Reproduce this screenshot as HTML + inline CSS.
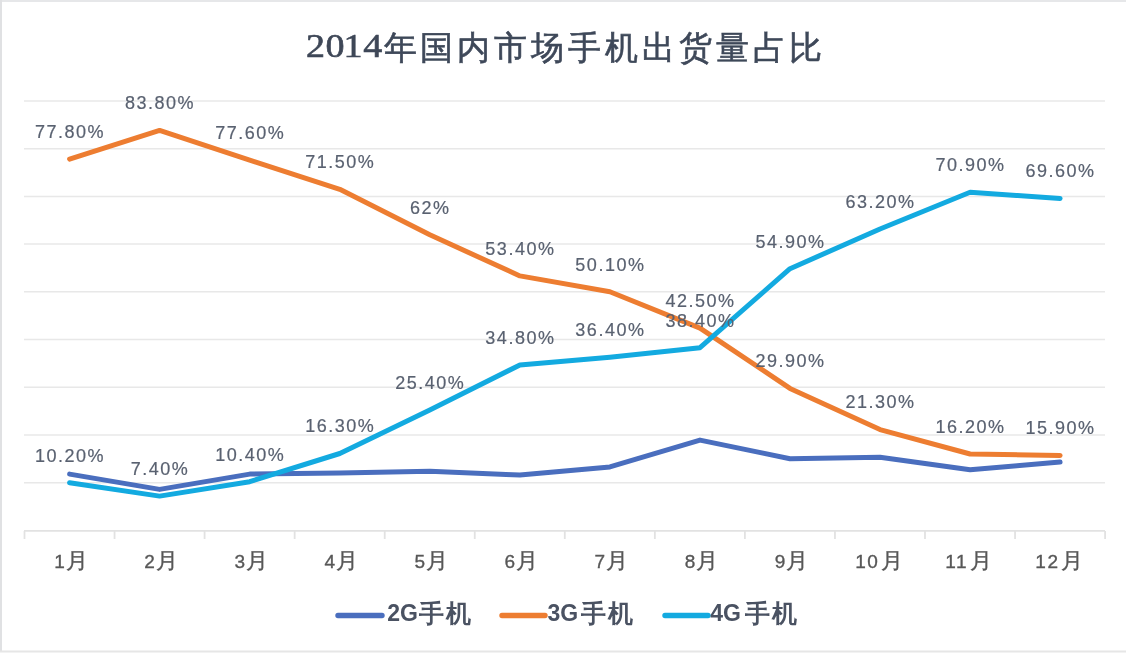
<!DOCTYPE html>
<html><head><meta charset="utf-8"><style>
html,body{margin:0;padding:0;background:#fff;}
body{width:1126px;height:658px;overflow:hidden;position:relative;}
svg{position:absolute;left:0;top:0;filter:blur(0.4px);}
text{font-family:"Liberation Sans",sans-serif;}
.lbl text{font-size:18px;fill:#596170;stroke:#596170;stroke-width:0.2px;text-anchor:middle;letter-spacing:1.5px;}
.cat text{font-size:19px;fill:#575757;stroke:#575757;stroke-width:0.35px;letter-spacing:1.6px;}
.cat .cj{font-size:22px;font-weight:400;}
.td{font-family:"Liberation Serif",serif;font-size:34px;font-weight:normal;fill:#3e4757;stroke:#3e4757;stroke-width:0.6px;text-anchor:middle;}
.tc{font-size:33px;font-weight:500;fill:#3e4859;stroke:#3e4859;stroke-width:0.6px;text-anchor:middle;}
.leg{font-size:23px;font-weight:bold;fill:#4a5262;}
.legc{font-size:25px;font-weight:700;fill:#4a5262;text-anchor:middle;}
</style></head><body>
<svg width="1126" height="658" viewBox="0 0 1126 658">
<rect x="0" y="0" width="1126" height="2" fill="#e6e7e9"/>
<rect x="0" y="0" width="2" height="652" fill="#e0e1e3"/>
<rect x="0" y="650.5" width="1126" height="2" fill="#e6e6e6"/>
<g stroke="#e8e8e8" stroke-width="1.5"><line x1="24" x2="1105" y1="100.90" y2="100.90"/><line x1="24" x2="1105" y1="148.64" y2="148.64"/><line x1="24" x2="1105" y1="196.38" y2="196.38"/><line x1="24" x2="1105" y1="244.12" y2="244.12"/><line x1="24" x2="1105" y1="291.86" y2="291.86"/><line x1="24" x2="1105" y1="339.60" y2="339.60"/><line x1="24" x2="1105" y1="387.34" y2="387.34"/><line x1="24" x2="1105" y1="435.08" y2="435.08"/><line x1="24" x2="1105" y1="482.82" y2="482.82"/></g>
<g stroke="#e2e2e2" stroke-width="1.8"><line x1="24" x2="1105" y1="530.8" y2="530.8"/><line x1="24.50" x2="24.50" y1="531" y2="539"/><line x1="114.55" x2="114.55" y1="531" y2="539"/><line x1="204.60" x2="204.60" y1="531" y2="539"/><line x1="294.65" x2="294.65" y1="531" y2="539"/><line x1="384.70" x2="384.70" y1="531" y2="539"/><line x1="474.75" x2="474.75" y1="531" y2="539"/><line x1="564.80" x2="564.80" y1="531" y2="539"/><line x1="654.85" x2="654.85" y1="531" y2="539"/><line x1="744.90" x2="744.90" y1="531" y2="539"/><line x1="834.95" x2="834.95" y1="531" y2="539"/><line x1="925.00" x2="925.00" y1="531" y2="539"/><line x1="1015.05" x2="1015.05" y1="531" y2="539"/><line x1="1105.10" x2="1105.10" y1="531" y2="539"/></g>
<text class="td" transform="translate(315.4,56.8) scale(1.12,1)">2</text><text class="td" transform="translate(335.0,56.8) scale(1.12,1)">0</text><text class="td" transform="translate(353.0,56.8) scale(1.12,1)">1</text><text class="td" transform="translate(372.7,56.8) scale(1.12,1)">4</text><text class="tc" x="400.0" y="58.5">年</text><text class="tc" x="436.9" y="58.5">国</text><text class="tc" x="473.8" y="58.5">内</text><text class="tc" x="510.7" y="58.5">市</text><text class="tc" x="547.6" y="58.5">场</text><text class="tc" x="584.5" y="58.5">手</text><text class="tc" x="621.4" y="58.5">机</text><text class="tc" x="658.3" y="58.5">出</text><text class="tc" x="695.2" y="58.5">货</text><text class="tc" x="732.1" y="58.5">量</text><text class="tc" x="769.0" y="58.5">占</text><text class="tc" x="805.9" y="58.5">比</text>
<g fill="none" stroke-width="5.0" stroke-linejoin="round" stroke-linecap="round">
<polyline stroke="#4a6ebe" points="69.6,474.1 159.6,489.4 249.7,474.1 339.8,473.1 429.8,471.2 519.9,475.0 609.9,466.9 700.0,440.1 790.0,458.8 880.0,457.3 970.1,469.8 1060.1,462.1"/>
<polyline stroke="#ed7d31" points="69.6,159.1 159.6,130.4 249.7,160.1 339.8,189.3 429.8,234.8 519.9,275.9 609.9,291.7 700.0,328.1 790.0,388.4 880.0,429.6 970.1,454.0 1060.1,455.4"/>
<polyline stroke="#13aae0" points="69.6,482.7 159.6,496.1 249.7,481.7 339.8,453.5 429.8,409.9 519.9,364.9 609.9,357.3 700.0,347.7 790.0,268.7 880.0,229.0 970.1,192.2 1060.1,198.4"/>
</g>
<g class="lbl"><text x="70.1" y="137.9">77.80%</text><text x="160.1" y="109.2">83.80%</text><text x="250.2" y="138.9">77.60%</text><text x="340.2" y="168.1">71.50%</text><text x="430.3" y="213.6">62%</text><text x="520.4" y="254.7">53.40%</text><text x="610.4" y="270.5">50.10%</text><text x="700.5" y="306.9">42.50%</text><text x="790.5" y="367.2">29.90%</text><text x="880.5" y="408.4">21.30%</text><text x="970.6" y="432.8">16.20%</text><text x="1060.6" y="434.2">15.90%</text><text x="70.1" y="461.5">10.20%</text><text x="160.1" y="474.9">7.40%</text><text x="250.2" y="460.5">10.40%</text><text x="340.2" y="432.3">16.30%</text><text x="430.3" y="388.7">25.40%</text><text x="520.4" y="343.7">34.80%</text><text x="610.4" y="336.1">36.40%</text><text x="700.5" y="326.5">38.40%</text><text x="790.5" y="247.5">54.90%</text><text x="880.5" y="207.8">63.20%</text><text x="970.6" y="171.0">70.90%</text><text x="1060.6" y="177.2">69.60%</text></g>
<g class="cat"><text x="54.3" y="568">1<tspan class="cj" dx="-0.5">月</tspan></text><text x="144.3" y="568">2<tspan class="cj" dx="-0.5">月</tspan></text><text x="234.4" y="568">3<tspan class="cj" dx="-0.5">月</tspan></text><text x="324.4" y="568">4<tspan class="cj" dx="-0.5">月</tspan></text><text x="414.5" y="568">5<tspan class="cj" dx="-0.5">月</tspan></text><text x="504.6" y="568">6<tspan class="cj" dx="-0.5">月</tspan></text><text x="594.6" y="568">7<tspan class="cj" dx="-0.5">月</tspan></text><text x="684.7" y="568">8<tspan class="cj" dx="-0.5">月</tspan></text><text x="774.7" y="568">9<tspan class="cj" dx="-0.5">月</tspan></text><text x="855.2" y="568">10<tspan class="cj" dx="1.5">月</tspan></text><text x="945.3" y="568">11<tspan class="cj" dx="1.5">月</tspan></text><text x="1035.3" y="568">12<tspan class="cj" dx="1.5">月</tspan></text></g>
<g stroke-width="5.4" stroke-linecap="round"><line x1="338" x2="382" y1="615.5" y2="615.5" stroke="#4a6ebe"/><line x1="502" x2="545" y1="615.5" y2="615.5" stroke="#ed7d31"/><line x1="665" x2="708" y1="615.5" y2="615.5" stroke="#13aae0"/></g>
<text class="leg" x="387.2" y="621.3">2G</text><text class="legc" x="431.7" y="622">手</text><text class="legc" x="458.2" y="622">机</text><text class="leg" x="547.5" y="621.3">3G</text><text class="legc" x="593.7" y="622">手</text><text class="legc" x="620.2" y="622">机</text><text class="leg" x="710.2" y="621.3">4G</text><text class="legc" x="757.7" y="622">手</text><text class="legc" x="784.2" y="622">机</text>
</svg>
</body></html>
